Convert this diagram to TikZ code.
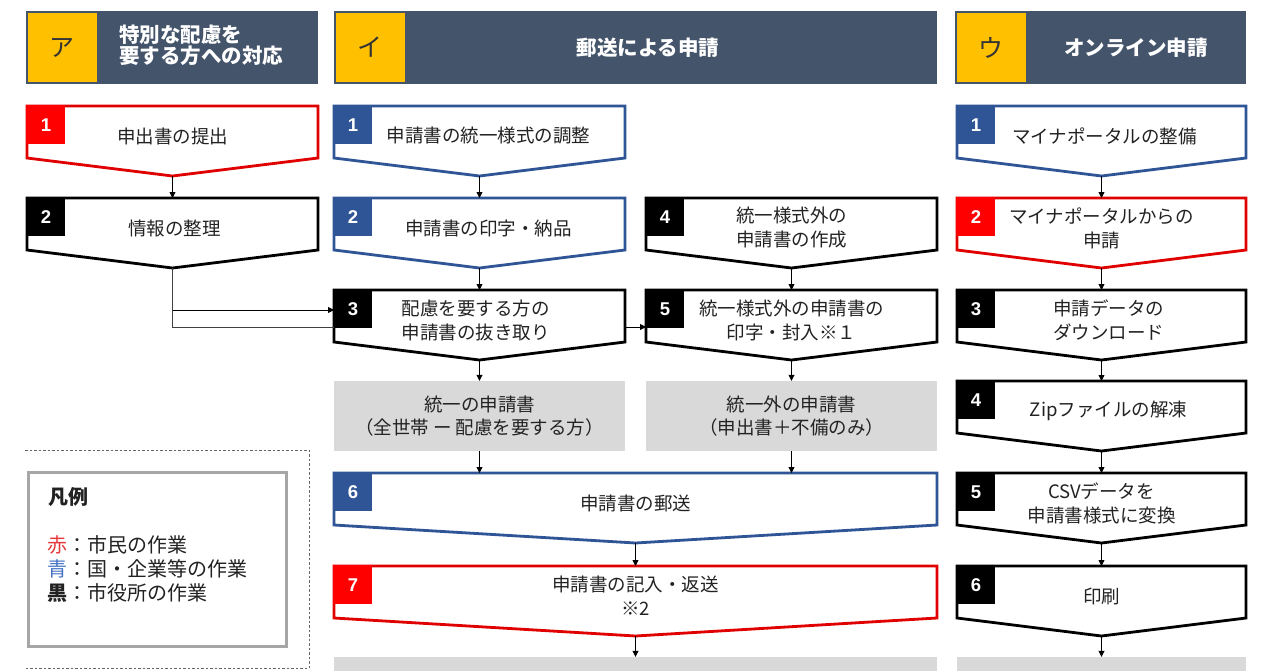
\documentclass[tikz,border=0pt]{standalone}
\usepackage{fontspec}
\setmainfont{Noto Sans CJK JP}
\newfontfamily\numfont{Liberation Sans}
\usetikzlibrary{arrows.meta}
\definecolor{hdr}{HTML}{44546A}
\definecolor{ylw}{HTML}{FFC000}
\definecolor{bblue}{HTML}{2F5597}
\definecolor{rred}{HTML}{E00000}
\definecolor{rlab}{HTML}{FF0000}
\definecolor{lgray}{HTML}{D9D9D9}
\definecolor{txt}{HTML}{222222}
\tikzset{
  boxtxt/.style={text=txt, align=center, font={\fontsize{18.5}{24}\selectfont}, inner sep=0pt},
  numtxt/.style={text=white, font={\numfont\bfseries\fontsize{18.5}{18}\selectfont}, inner sep=0pt},
  hdrtxt/.style={text=white, font={\bfseries\fontsize{20.5}{24}\selectfont}, inner sep=0pt},
  katatxt/.style={text=black!80, font={\fontsize{25}{25}\selectfont}, inner sep=0pt},
  graybox/.style={fill=lgray, draw=none, align=center, text=txt, font={\fontsize{18.5}{23}\selectfont}, inner sep=0pt},
  conn/.style={draw=black, line width=0.8pt, -{Triangle[length=6pt,width=6pt]}},
  plainconn/.style={draw=black!75, line width=0.8pt},
}
\newcommand{\flowbox}[9]{%
  \draw[#5, line width=2.8pt, fill=white, line join=miter] (#2,#4) -- (#3,#4) -- (#3,{#4+52}) -- ({(#2+#3)/2},{#4+70}) -- (#2,{#4+52}) -- cycle;
  \fill[#6] ({#2-1.4},{#4-1.4}) rectangle ({#2+38},{#4+38});
  \node[numtxt] (#1n) at ({#2+19},{#4+19}) {#7};
  \node[boxtxt] (#1) at ({(#2+#3)/2+#9},{#4+30}) {#8};
  \coordinate (#1top) at ({(#2+#3)/2},#4);
  \coordinate (#1tip) at ({(#2+#3)/2},{#4+70});
}
\newcommand{\hdrbox}[6]{%
  \fill[hdr] (#2,11) rectangle (#3,84);
  \fill[ylw] ({#2+2},13) rectangle ({#2+71},82);
  \node[katatxt] (#1k) at ({#2+36},47.5) {#4};
  \node[hdrtxt, #6] (#1) {#5};
}
\begin{document}
\begin{tikzpicture}[x=1pt,y=-1pt]
\useasboundingbox (0,0) rectangle (1280,670);
\fill[white] (0,0) rectangle (1280,670);

% headers
\hdrbox{ha}{26}{318}{ア}{\begin{tabular}{@{}l@{}}特別な配慮を\\[-4pt]要する方への対応\end{tabular}}{anchor=west, at={(119,48)}}
\hdrbox{hb}{334}{937}{イ}{郵送による申請}{at={(648,47.5)}}
\hdrbox{hc}{955}{1246}{ウ}{オンライン申請}{at={(1136,47.5)}}

% column A
\flowbox{a1}{27}{318}{106}{rred}{rlab}{1}{申出書の提出}{0}
\flowbox{a2}{27}{318}{198}{black}{black}{2}{情報の整理}{2}

% column B
\flowbox{b1}{334}{625}{106}{bblue}{bblue}{1}{申請書の統一様式の調整}{9}
\flowbox{b2}{334}{625}{198}{bblue}{bblue}{2}{申請書の印字・納品}{9}
\flowbox{b4}{646}{937}{198}{black}{black}{4}{統一様式外の\\申請書の作成}{0}
\flowbox{b3}{334}{625}{290}{black}{black}{3}{配慮を要する方の\\申請書の抜き取り}{-4}
\flowbox{b5}{646}{937}{290}{black}{black}{5}{統一様式外の申請書の\\印字・封入※１}{0}
\node[graybox, minimum width=291pt, minimum height=70pt] (g1) at (479.5,416) {統一の申請書\\（全世帯 ー 配慮を要する方）};
\node[graybox, minimum width=291pt, minimum height=70pt] (g2) at (791.5,416) {統一外の申請書\\（申出書＋不備のみ）};
\flowbox{b6}{334}{937}{473}{bblue}{bblue}{6}{申請書の郵送}{0}
\flowbox{b7}{334}{937}{566}{rred}{rlab}{7}{申請書の記入・返送\\※2}{0}
\node[fill=lgray, minimum width=603pt, minimum height=30pt, inner sep=0pt] (g3) at (635.5,672) {};

% column C
\flowbox{c1}{957}{1246}{106}{bblue}{bblue}{1}{マイナポータルの整備}{3}
\flowbox{c2}{957}{1246}{198}{rred}{rlab}{2}{マイナポータルからの\\申請}{0}
\flowbox{c3}{957}{1246}{290}{black}{black}{3}{申請データの\\ダウンロード}{7}
\flowbox{c4}{957}{1246}{381}{black}{black}{4}{Zipファイルの解凍}{7}
\flowbox{c5}{957}{1246}{473}{black}{black}{5}{CSVデータを\\申請書様式に変換}{0}
\flowbox{c6}{957}{1246}{566}{black}{black}{6}{印刷}{0}
\node[fill=lgray, minimum width=289pt, minimum height=30pt, inner sep=0pt] (g4) at (1101.5,672) {};

% connector anchors
\coordinate (b3in) at (334,310);
\coordinate (b3low) at (334,327);
\coordinate (b3out) at (625,327);
\coordinate (b5in) at (646,327);

% connectors
\draw[conn] (a1tip) -- (a2top);
\draw[plainconn] (a2tip) |- (b3low);
\draw[conn] (a2tip |- b3in) -- (b3in);
\draw[conn] (b3out) -- (b5in);
\draw[conn] (b1tip) -- (b2top);
\draw[conn] (b2tip) -- (b3top);
\draw[conn] (b4tip) -- (b5top);
\draw[conn] (b3tip) -- (g1.north);
\draw[conn] (b5tip) -- (g2.north);
\draw[conn] (g1.south) -- (g1.south |- b6top);
\draw[conn] (g2.south) -- (g2.south |- b6top);
\draw[conn] (b6tip) -- (b7top);
\draw[conn] (b7tip) -- (b7tip |- g3.north);
\draw[conn] (c1tip) -- (c2top);
\draw[conn] (c2tip) -- (c3top);
\draw[conn] (c3tip) -- (c4top);
\draw[conn] (c4tip) -- (c5top);
\draw[conn] (c5tip) -- (c6top);
\draw[conn] (c6tip) -- (c6tip |- g4.north);

% legend
\coordinate (lg1) at (25,450);
\coordinate (lg2) at (309,450);
\coordinate (lg3) at (309,668);
\coordinate (lg4) at (25,668);
\draw[black!60, dashed, line width=0.8pt, dash pattern=on 2.5pt off 2pt] (lg1) -- (lg2) -- (lg3) -- (lg4);
\node[draw=black!35, line width=3pt, minimum width=258pt, minimum height=174pt, inner sep=0pt] (leg) at (157.5,559.5) {};
\node[anchor=west, text=txt, font={\bfseries\fontsize{20}{20}\selectfont}, inner sep=0pt] (legt) at (48,497) {凡例};
\node[anchor=north west, text=txt, align=left, font={\fontsize{20}{24}\selectfont}, inner sep=0pt] (legl) at (47,535) {{\color[HTML]{E8383D}赤}：市民の作業\\{\color[HTML]{4472C4}青}：国・企業等の作業\\{\bfseries 黒}：市役所の作業};
\end{tikzpicture}
\end{document}
